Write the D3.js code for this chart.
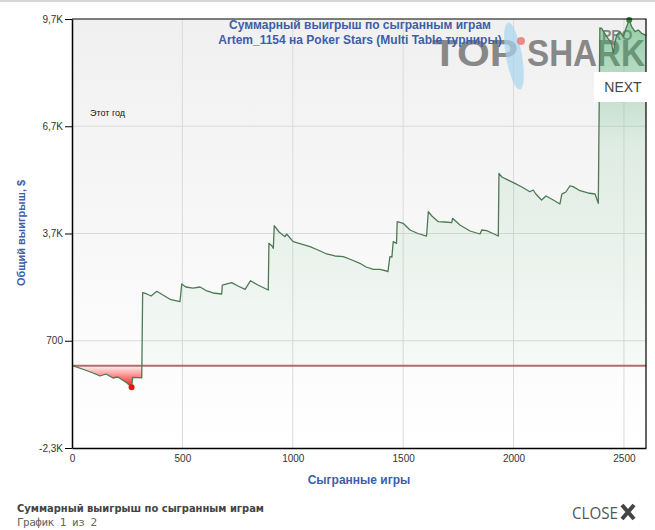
<!DOCTYPE html>
<html>
<head>
<meta charset="utf-8">
<script src="https://cdn.jsdelivr.net/npm/d3@7"></script>
<style>
  body { margin: 0; background: #fff; }
  svg { display: block; font-family: "Liberation Sans", Arial, sans-serif; }
</style>
</head>
<body>
<svg width="655" height="530"></svg>
<script>
// games played vs cumulative winnings ($)
var games = [0, 6, 59, 95, 127, 154, 186, 208, 249, 270, 275, 316, 320, 339, 358, 384, 412, 444, 489,
  497, 516, 548, 580, 611, 639, 678, 681, 723, 752, 784, 809, 842, 889, 892, 906, 912, 916, 938, 965,
  972, 1002, 1078, 1114, 1154, 1191, 1229, 1268, 1304, 1332, 1365, 1395, 1425, 1431, 1440, 1449, 1455,
  1470, 1473, 1500, 1531, 1567, 1606, 1614, 1630, 1659, 1689, 1720, 1724, 1757, 1803, 1848, 1856, 1878,
  1902, 1931, 1934, 1947, 1969, 2006, 2038, 2074, 2089, 2101, 2127, 2147, 2180, 2210, 2219, 2225, 2237,
  2255, 2270, 2301, 2337, 2369, 2384, 2391, 2399, 2409, 2422, 2444, 2452, 2459, 2467, 2482, 2497, 2512,
  2524, 2535, 2550, 2565, 2580, 2600];
var winnings = [0, 0, -118, -202, -286, -230, -342, -314, -482, -602, -322, -336, 2044, 2008, 1952, 2083,
  1980, 1859, 1792, 2287, 2203, 2175, 2203, 2092, 2036, 2008, 2259, 2324, 2231, 2139, 2380, 2259, 2120,
  3426, 3350, 3286, 3918, 3742, 3611, 3686, 3471, 3331, 3238, 3127, 3071, 3051, 2959, 2866, 2763, 2699,
  2699, 2651, 2631, 3051, 3040, 3471, 3426, 4030, 3985, 3798, 3700, 3630, 4310, 4190, 4030, 4022, 4002,
  4125, 3938, 3770, 3686, 3798, 3778, 3714, 3630, 5384, 5280, 5216, 5104, 5001, 4869, 4917, 4805, 4637,
  4749, 4637, 4525, 4805, 4824, 4861, 5029, 5010, 4897, 4833, 4805, 4545, 9448, 9440, 9336, 9205, 9020,
  8741, 9020, 9252, 9345, 9205, 9485, 9672, 9485, 9345, 9392, 9300, 9240];

var yTicks = [-2300, 700, 3700, 6700, 9700];
var yTickLabels = ["-2,3K", "700", "3,7K", "6,7K", "9,7K"];
var xTicks = [0, 500, 1000, 1500, 2000, 2500];

var titleLines = ["Суммарный выигрыш по сыгранным играм", "Artem_1154 на Poker Stars (Multi Table турниры)"];

var data = games.map(function(g, i) { return {g: g, v: winnings[i]}; });

var svg = d3.select("svg"),
    pLeft = 72, pTop = 19, pRight = 646, pBottom = 448;

var x = d3.scaleLinear().domain([0, 2600]).range([pLeft, pRight]);
var y = d3.scaleLinear().domain([-2300, 9700]).range([pBottom, pTop]);

var defs = svg.append("defs");

var bg = defs.append("linearGradient").attr("id", "bg")
    .attr("x1", 0).attr("y1", 0).attr("x2", 0).attr("y2", 1);
bg.append("stop").attr("offset", 0).attr("stop-color", "#f0f0f0");
bg.append("stop").attr("offset", 1).attr("stop-color", "#ffffff");

var green = defs.append("linearGradient").attr("id", "green")
    .attr("gradientUnits", "userSpaceOnUse")
    .attr("x1", 0).attr("y1", pTop).attr("x2", 0).attr("y2", y(0));
green.append("stop").attr("offset", 0).attr("stop-color", "rgb(60,170,95)").attr("stop-opacity", 0.5);
green.append("stop").attr("offset", 0.35).attr("stop-color", "rgb(60,170,95)").attr("stop-opacity", 0.12);
green.append("stop").attr("offset", 1).attr("stop-color", "rgb(60,170,95)").attr("stop-opacity", 0.03);

var red = defs.append("linearGradient").attr("id", "red")
    .attr("gradientUnits", "userSpaceOnUse")
    .attr("x1", 0).attr("y1", y(0)).attr("x2", 0).attr("y2", y(-620));
red.append("stop").attr("offset", 0).attr("stop-color", "#ff0000").attr("stop-opacity", 0.03);
red.append("stop").attr("offset", 1).attr("stop-color", "#ff0000").attr("stop-opacity", 0.95);

defs.append("clipPath").attr("id", "above").append("rect")
    .attr("x", pLeft).attr("y", pTop).attr("width", pRight - pLeft).attr("height", y(0) - pTop);
defs.append("clipPath").attr("id", "below").append("rect")
    .attr("x", pLeft).attr("y", y(0)).attr("width", pRight - pLeft).attr("height", pBottom - y(0));

// top grey strip
svg.append("rect").attr("x", 0).attr("y", 0).attr("width", 655).attr("height", 2).attr("fill", "#d6d6d6");

// plot background
svg.append("rect")
    .attr("x", pLeft).attr("y", pTop).attr("width", pRight - pLeft).attr("height", pBottom - pTop)
    .attr("fill", "url(#bg)");

// grid
svg.append("g").selectAll("line").data(xTicks.slice(1)).enter().append("line")
    .attr("x1", function(d) { return x(d); }).attr("x2", function(d) { return x(d); })
    .attr("y1", pTop).attr("y2", pBottom)
    .attr("stroke", "#dadada");
svg.append("g").selectAll("line").data(yTicks.slice(1, 4)).enter().append("line")
    .attr("x1", pLeft).attr("x2", pRight)
    .attr("y1", function(d) { return y(d); }).attr("y2", function(d) { return y(d); })
    .attr("stroke", "#dadada");

// watermark
var wm = svg.append("g").attr("fill", "#888");
wm.append("text").attr("x", 432).attr("y", 66).attr("font-size", 36).attr("font-weight", "bold")
    .attr("textLength", 86).attr("lengthAdjust", "spacingAndGlyphs").text("TOP");
wm.append("text").attr("x", 527).attr("y", 66).attr("font-size", 36).attr("font-weight", "bold")
    .attr("textLength", 118).attr("lengthAdjust", "spacingAndGlyphs").text("SHARK");
wm.append("text").attr("x", 602).attr("y", 40).attr("font-size", 14).attr("font-weight", "bold")
    .text("PRO");
svg.append("ellipse").attr("cx", 514).attr("cy", 56).attr("rx", 8).attr("ry", 34)
    .attr("transform", "rotate(-10,514,56)")
    .attr("fill", "#a8d6ef").attr("opacity", 0.7);
svg.append("circle").attr("cx", 521).attr("cy", 41).attr("r", 4).attr("fill", "#f07070").attr("opacity", 0.8);

// areas
var area = d3.area()
    .x(function(d) { return x(d.g); })
    .y0(y(0))
    .y1(function(d) { return y(d.v); });

svg.append("path").datum(data)
    .attr("clip-path", "url(#above)")
    .attr("fill", "url(#green)")
    .attr("d", area);
svg.append("path").datum(data)
    .attr("clip-path", "url(#below)")
    .attr("fill", "url(#red)")
    .attr("d", area);

// zero line
svg.append("line")
    .attr("x1", pLeft).attr("x2", pRight)
    .attr("y1", y(0)).attr("y2", y(0))
    .attr("stroke", "#b36b6b").attr("stroke-width", 2);

var line = d3.line()
    .x(function(d) { return x(d.g); })
    .y(function(d) { return y(d.v); });

svg.append("path").datum(data)
    .attr("fill", "none")
    .attr("stroke", "#4d7a52")
    .attr("stroke-width", 1.3)
    .attr("stroke-linejoin", "round")
    .attr("d", line);

// min / max markers
var minPt = data.reduce(function(a, b) { return b.v < a.v ? b : a; });
var maxPt = data.reduce(function(a, b) { return b.v > a.v ? b : a; });
svg.append("circle").attr("cx", x(minPt.g)).attr("cy", y(minPt.v)).attr("r", 3).attr("fill", "#ee1111");
svg.append("circle").attr("cx", x(maxPt.g)).attr("cy", y(maxPt.v)).attr("r", 3).attr("fill", "#2f8a3a");

// frame
svg.append("path")
    .attr("d", "M" + pLeft + "," + pTop + "H" + pRight + "V" + pBottom)
    .attr("fill", "none").attr("stroke", "#000").attr("stroke-width", 1.2);

// axes
var yAxis = svg.append("g")
    .attr("transform", "translate(" + pLeft + ",0)")
    .call(d3.axisLeft(y).tickValues(yTicks).tickSize(7).tickPadding(2).tickSizeOuter(0)
      .tickFormat(function(d, i) { return yTickLabels[i]; }));
yAxis.select(".domain").attr("stroke-width", 1.5);
yAxis.selectAll("text").attr("font-size", 10).attr("fill", "#333")
    .attr("font-family", "Liberation Sans, Arial, sans-serif");

var xAxis = svg.append("g")
    .attr("transform", "translate(0," + pBottom + ")")
    .call(d3.axisBottom(x).tickValues(xTicks).tickSize(0).tickPadding(7).tickSizeOuter(0)
      .tickFormat(d3.format("d")));
xAxis.select(".domain").attr("stroke-width", 1.5);
xAxis.selectAll("text").attr("font-size", 10).attr("fill", "#333")
    .attr("font-family", "Liberation Sans, Arial, sans-serif");

// titles
svg.append("g").selectAll("text").data(titleLines).enter().append("text")
    .attr("x", 360).attr("y", function(d, i) { return 29 + i * 15; })
    .attr("text-anchor", "middle")
    .attr("font-size", 12).attr("font-weight", "bold")
    .attr("fill", "#3d5ea8")
    .text(function(d) { return d; });

svg.append("text").attr("x", 90).attr("y", 116).attr("font-size", 9).attr("fill", "#111").text("Этот год");

svg.append("text")
    .attr("transform", "translate(25,233) rotate(-90)")
    .attr("text-anchor", "middle")
    .attr("font-size", 11).attr("font-weight", "bold").attr("fill", "#3d5ea8")
    .text("Общий выигрыш, $");

svg.append("text")
    .attr("x", 359).attr("y", 484)
    .attr("text-anchor", "middle")
    .attr("font-size", 12).attr("font-weight", "bold").attr("fill", "#3d5ea8")
    .text("Сыгранные игры");

// NEXT button
svg.append("rect").attr("x", 594).attr("y", 72).attr("width", 61).attr("height", 30).attr("fill", "#fff");
svg.append("text").attr("x", 623).attr("y", 92).attr("text-anchor", "middle")
    .attr("font-size", 14).attr("fill", "#444").text("NEXT");

// caption
svg.append("text").attr("x", 17).attr("y", 512)
    .attr("font-family", "DejaVu Sans, sans-serif").attr("font-size", 10.5).attr("font-weight", "bold")
    .attr("fill", "#444").attr("textLength", 247).attr("lengthAdjust", "spacingAndGlyphs")
    .text("Суммарный выигрыш по сыгранным играм");
svg.append("text").attr("x", 17).attr("y", 526)
    .attr("font-family", "DejaVu Sans Mono, monospace").attr("font-size", 11)
    .attr("fill", "#666").attr("textLength", 80)
    .text("График 1 из 2");

svg.append("text").attr("x", 572).attr("y", 519)
    .attr("font-family", "Open Sans, sans-serif").attr("font-size", 17)
    .attr("fill", "#555").attr("textLength", 46).attr("lengthAdjust", "spacingAndGlyphs")
    .text("CLOSE");
svg.append("path")
    .attr("d", "M622,505L634,519M634,505L622,519")
    .attr("stroke", "#444").attr("stroke-width", 4);
</script>
</body>
</html>
